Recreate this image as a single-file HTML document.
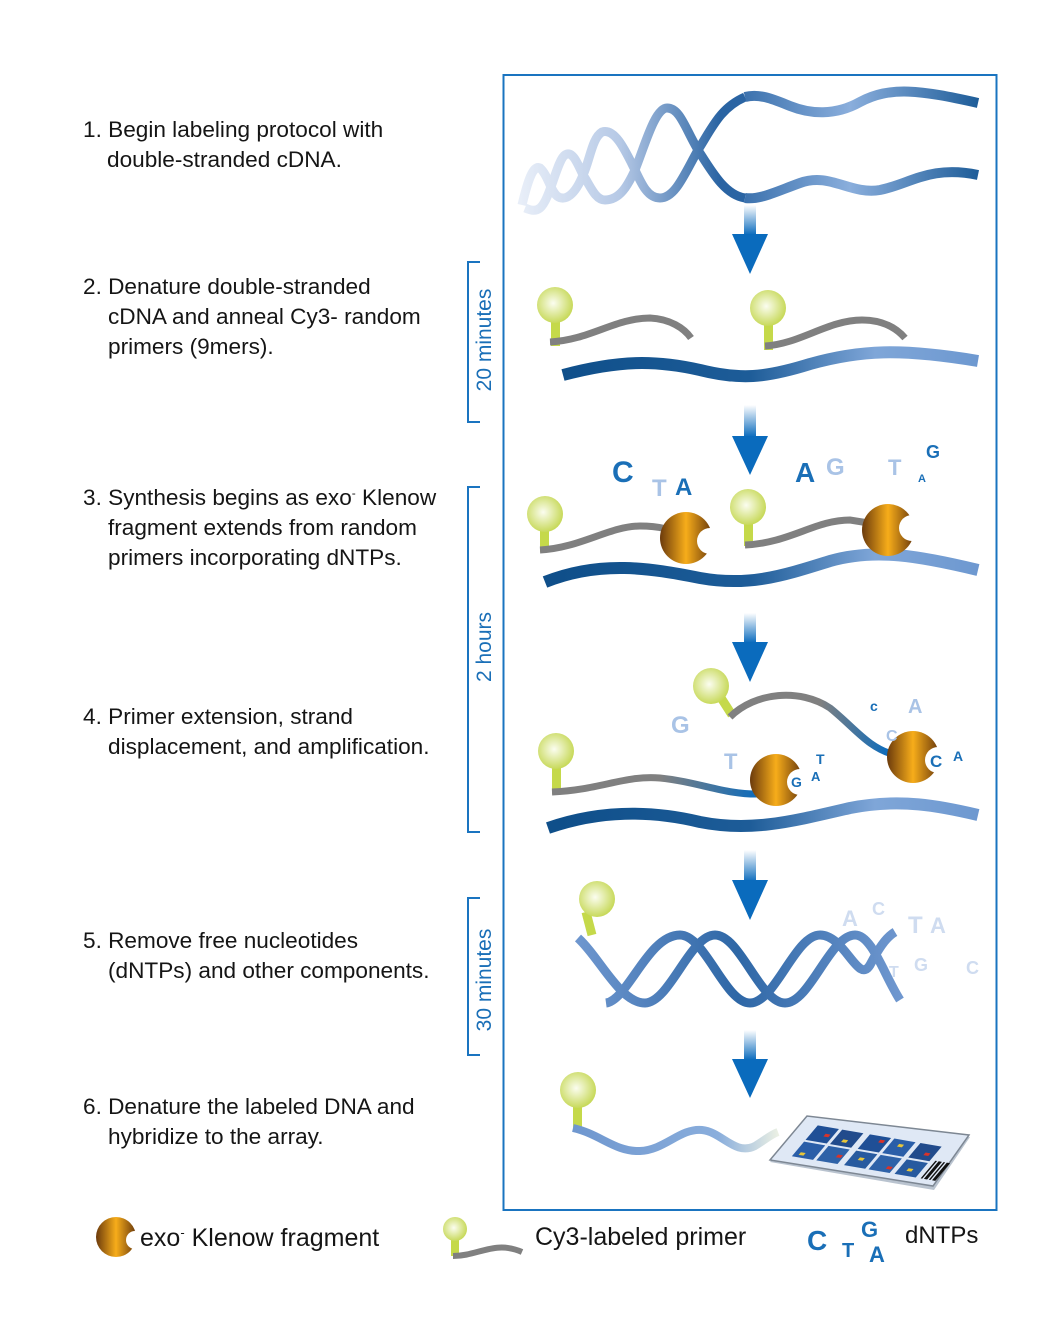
<!DOCTYPE html>
<html><head><meta charset="utf-8"><style>
html,body{margin:0;padding:0;background:#fff}
svg{display:block}
.t{font-family:"Liberation Sans",sans-serif;font-size:22.6px;fill:#151515}
.b{font-family:"Liberation Sans",sans-serif;font-weight:bold}
.d{fill:#1a6fb7}.l{fill:#a9c3e6}.vl{fill:#cfdcf0}
</style></head><body>
<svg width="1060" height="1334" viewBox="0 0 1060 1334" xmlns="http://www.w3.org/2000/svg">
<defs>
<radialGradient id="bulb" cx="0.45" cy="0.45" r="0.6"><stop offset="0" stop-color="#fbfdf0"/><stop offset="1" stop-color="#c3d64d"/></radialGradient>
<linearGradient id="enz" x1="0" x2="1" y1="0" y2="0"><stop offset="0" stop-color="#6b3a0c"/><stop offset="0.5" stop-color="#f7ad1a"/><stop offset="1" stop-color="#6b3a0c"/></linearGradient>
<linearGradient id="arr" x1="0" x2="0" y1="0" y2="1"><stop offset="0" stop-color="#ffffff"/><stop offset="1" stop-color="#0a6bbd"/></linearGradient>
<linearGradient id="tmpl" gradientUnits="userSpaceOnUse" x1="560" x2="980" y1="0" y2="0"><stop offset="0" stop-color="#0f4f8a"/><stop offset="0.45" stop-color="#1d5c98"/><stop offset="0.75" stop-color="#7fa6d8"/><stop offset="1" stop-color="#6d98d0"/></linearGradient>
<linearGradient id="hx1" gradientUnits="userSpaceOnUse" x1="520" x2="720" y1="0" y2="0"><stop offset="0" stop-color="#e8eef8"/><stop offset="0.5" stop-color="#b6c9e6"/><stop offset="1" stop-color="#2a64a3"/></linearGradient>
<linearGradient id="hxr" gradientUnits="userSpaceOnUse" x1="720" x2="980" y1="0" y2="0"><stop offset="0" stop-color="#2a64a3"/><stop offset="0.5" stop-color="#8aaedc"/><stop offset="1" stop-color="#1d5c98"/></linearGradient>
<linearGradient id="hx5" gradientUnits="userSpaceOnUse" x1="575" x2="900" y1="0" y2="0"><stop offset="0" stop-color="#6f97cf"/><stop offset="0.5" stop-color="#2e67a6"/><stop offset="1" stop-color="#6f97cf"/></linearGradient>
<linearGradient id="s6" gradientUnits="userSpaceOnUse" x1="575" x2="780" y1="0" y2="0"><stop offset="0" stop-color="#6f97cf"/><stop offset="0.7" stop-color="#8aaedc"/><stop offset="1" stop-color="#eef2e4"/></linearGradient>
<linearGradient id="g2b" gradientUnits="userSpaceOnUse" x1="660" x2="760" y1="0" y2="0"><stop offset="0" stop-color="#808080"/><stop offset="1" stop-color="#0a6bbd"/></linearGradient>
<linearGradient id="g2c" gradientUnits="userSpaceOnUse" x1="820" x2="890" y1="0" y2="0"><stop offset="0" stop-color="#808080"/><stop offset="1" stop-color="#0a6bbd"/></linearGradient>
</defs>

<rect x="503.5" y="75" width="493" height="1135" fill="none" stroke="#1a74c0" stroke-width="2"/>

<text class="t" x="83" y="137">1. Begin labeling protocol with</text>
<text class="t" x="107" y="167">double-stranded cDNA.</text>
<text class="t" x="83" y="294">2. Denature double-stranded</text>
<text class="t" x="108" y="324">cDNA and anneal Cy3- random</text>
<text class="t" x="108" y="354">primers (9mers).</text>
<text class="t" x="83" y="505">3. Synthesis begins as exo<tspan dy="-8" font-size="12">-</tspan><tspan dy="8"> Klenow</tspan></text>
<text class="t" x="108" y="535">fragment extends from random</text>
<text class="t" x="108" y="565">primers incorporating dNTPs.</text>
<text class="t" x="83" y="724">4. Primer extension, strand</text>
<text class="t" x="108" y="754">displacement, and amplification.</text>
<text class="t" x="83" y="948">5. Remove free nucleotides</text>
<text class="t" x="108" y="978">(dNTPs) and other components.</text>
<text class="t" x="83" y="1114">6. Denature the labeled DNA and</text>
<text class="t" x="108" y="1144">hybridize to the array.</text>

<g fill="none" stroke="#1a74c0" stroke-width="2">
<path d="M480,262 H468 V422 H480"/>
<path d="M480,487 H468 V832 H480"/>
<path d="M480,898 H468 V1055 H480"/>
</g>
<g font-family="Liberation Sans,sans-serif" font-size="21" fill="#1a6fb7" text-anchor="middle">
<text transform="translate(491,340) rotate(-90)">20 minutes</text>
<text transform="translate(491,647) rotate(-90)">2 hours</text>
<text transform="translate(491,980) rotate(-90)">30 minutes</text>
</g>

<g>
<rect x="744" y="205" width="12" height="30" fill="url(#arr)"/><polygon points="732,234 768,234 750,274" fill="#0a6bbd"/>
<rect x="744" y="405" width="12" height="32" fill="url(#arr)"/><polygon points="732,436 768,436 750,475" fill="#0a6bbd"/>
<rect x="744" y="613" width="12" height="30" fill="url(#arr)"/><polygon points="732,642 768,642 750,682" fill="#0a6bbd"/>
<rect x="744" y="850" width="12" height="32" fill="url(#arr)"/><polygon points="732,880 768,880 750,920" fill="#0a6bbd"/>
<rect x="744" y="1030" width="12" height="30" fill="url(#arr)"/><polygon points="732,1059 768,1059 750,1098" fill="#0a6bbd"/>
</g>

<g fill="none" stroke-width="9" stroke-linecap="butt">
<path stroke="url(#hx1)" d="M745,97 C720,108 712,128 698,150 C684,175 675,198 660,198 C648,198 642,185 635,170 C625,150 615,128 602,132 C592,138 590,160 583,175 C575,195 565,202 557,196 C550,190 548,175 540,168 C533,165 528,180 522,205"/>
<path stroke="url(#hx1)" d="M745,198 C725,195 712,172 698,150 C685,128 680,108 667,108 C655,108 645,145 635,170 C628,185 620,200 605,200 C595,200 590,185 583,175 C577,162 572,150 565,155 C557,160 550,200 540,208 C535,212 530,210 525,208"/>
<path stroke="url(#hxr)" stroke-width="10" d="M745,97 C760,93 775,100 790,106 C810,114 835,116 860,102 C890,86 920,90 978,103"/>
<path stroke="url(#hxr)" stroke-width="10" d="M745,198 C760,200 775,192 800,183 C830,172 850,195 880,190 C910,184 930,165 978,175"/>
</g>

<path d="M563,375 C620,360 655,360 700,370 C740,380 765,378 810,364 C860,350 900,348 978,361" fill="none" stroke="url(#tmpl)" stroke-width="12"/>
<rect x="551" y="318" width="9" height="28" fill="#c5d94a"/><circle cx="555" cy="305" r="18" fill="url(#bulb)"/>
<path d="M550,342 C590,340 615,318 650,318 C670,319 684,328 691,338" fill="none" stroke="#808080" stroke-width="7"/>
<rect x="764" y="322" width="9" height="28" fill="#c5d94a"/><circle cx="768" cy="308" r="18" fill="url(#bulb)"/>
<path d="M765,346 C800,344 828,320 862,320 C885,320 898,330 905,338" fill="none" stroke="#808080" stroke-width="7"/>

<path d="M545,582 C600,560 650,568 700,578 C750,587 785,575 830,561 C875,548 920,556 978,570" fill="none" stroke="url(#tmpl)" stroke-width="12"/>
<rect x="540" y="524" width="9" height="28" fill="#c5d94a"/><circle cx="545" cy="514" r="18" fill="url(#bulb)"/>
<path d="M540,550 C580,548 610,526 640,526 C660,526 672,530 685,535" fill="none" stroke="#808080" stroke-width="7"/>
<circle cx="686" cy="538" r="26" fill="url(#enz)"/><circle cx="710" cy="541" r="13" fill="#fff"/>
<rect x="744" y="518" width="9" height="28" fill="#c5d94a"/><circle cx="748" cy="507" r="18" fill="url(#bulb)"/>
<path d="M745,545 C790,543 815,520 850,520 L875,524" fill="none" stroke="#808080" stroke-width="7"/>
<circle cx="888" cy="530" r="26" fill="url(#enz)"/><circle cx="912" cy="528" r="13" fill="#fff"/>
<g class="b">
<text class="d" x="612" y="482" font-size="30">C</text>
<text class="l" x="652" y="496" font-size="24">T</text>
<text class="d" x="675" y="495" font-size="24">A</text>
<text class="d" x="795" y="482" font-size="28">A</text>
<text class="l" x="826" y="475" font-size="24">G</text>
<text class="l" x="888" y="475" font-size="22">T</text>
<text class="d" x="926" y="458" font-size="18">G</text>
<text class="d" x="918" y="482" font-size="11">A</text>
</g>

<path d="M548,828 C600,810 650,810 700,822 C750,832 790,822 850,808 C900,798 940,806 978,815" fill="none" stroke="url(#tmpl)" stroke-width="12"/>
<rect x="552" y="762" width="9" height="32" fill="#c5d94a"/><circle cx="556" cy="751" r="18" fill="url(#bulb)"/>
<path d="M552,792 C600,790 625,775 660,778 C700,782 725,795 760,794" fill="none" stroke="url(#g2b)" stroke-width="7"/>
<circle cx="776" cy="780" r="26" fill="url(#enz)"/><circle cx="800" cy="782" r="13" fill="#fff"/>
<path d="M716,690 L732,715" stroke="#c5d94a" stroke-width="9"/><circle cx="711" cy="686" r="18" fill="url(#bulb)"/>
<path d="M730,717 C755,692 800,688 830,708 C855,728 868,748 895,755" fill="none" stroke="url(#g2c)" stroke-width="7"/>
<circle cx="913" cy="757" r="26" fill="url(#enz)"/><circle cx="938" cy="760" r="13" fill="#fff"/>
<g class="b">
<text class="l" x="671" y="733" font-size="24">G</text>
<text class="l" x="724" y="769" font-size="22">T</text>
<text class="d" x="791" y="787" font-size="14">G</text>
<text class="d" x="811" y="781" font-size="13">A</text>
<text class="d" x="816" y="764" font-size="14">T</text>
<text class="d" x="870" y="711" font-size="14">c</text>
<text class="l" x="908" y="713" font-size="20">A</text>
<text class="l" x="886" y="741" font-size="16">C</text>
<text class="d" x="930" y="767" font-size="17">C</text>
<text class="d" x="953" y="761" font-size="14">A</text>
</g>

<path d="M592,935 L586,912" stroke="#c5d94a" stroke-width="9"/><circle cx="597" cy="899" r="18" fill="url(#bulb)"/>
<g fill="none" stroke="url(#hx5)" stroke-width="9">
<path d="M578,938 C600,958 620,1003 645,1003 C670,1002 690,935 715,935 C740,935 760,1003 785,1003 C810,1003 830,935 855,935 C872,935 884,975 900,1000"/>
<path d="M606,1003 C628,1000 648,935 680,935 C705,935 725,1003 750,1003 C775,1003 795,935 820,935 C845,935 858,985 870,965 C878,950 885,938 895,932"/>
</g>
<g class="b vl">
<text x="842" y="926" font-size="22">A</text>
<text x="872" y="915" font-size="18">C</text>
<text x="908" y="933" font-size="24">T</text>
<text x="930" y="933" font-size="22">A</text>
<text x="889" y="977" font-size="16">T</text>
<text x="914" y="971" font-size="18">G</text>
<text x="966" y="974" font-size="18">C</text>
</g>

<rect x="573" y="1100" width="9" height="30" fill="#c5d94a"/><circle cx="578" cy="1090" r="18" fill="url(#bulb)"/>
<path d="M573,1128 C600,1134 615,1152 640,1151 C665,1150 680,1128 702,1130 C722,1132 735,1156 755,1146 C765,1140 770,1135 778,1132" fill="none" stroke="url(#s6)" stroke-width="8"/>
<polygon points="770,1162 807,1118 970,1137 934,1190" fill="#b9c3cf"/>
<polygon points="770,1160 807,1116 969,1135 933,1186" fill="#dfe8f5" stroke="#7d8793" stroke-width="1.5"/>
<g transform="matrix(1.63,0.28,0.37,-0.44,770,1160)">
<rect x="10" y="15" width="13" height="33" fill="#2a5ea8"/><rect x="10" y="52" width="13" height="33" fill="#1f4f96"/>
<rect x="25" y="15" width="13" height="33" fill="#2e62a8"/><rect x="25" y="52" width="13" height="33" fill="#214b8c"/>
<rect x="42" y="15" width="13" height="33" fill="#275a9f"/><rect x="42" y="52" width="13" height="33" fill="#1f4f96"/>
<rect x="57" y="15" width="13" height="33" fill="#2e62a8"/><rect x="57" y="52" width="13" height="33" fill="#2a5ea8"/>
<rect x="73" y="15" width="13" height="33" fill="#275a9f"/><rect x="73" y="52" width="13" height="33" fill="#214b8c"/>
<g fill="#e8c63a"><rect x="13" y="20" width="3" height="6"/><rect x="30" y="60" width="3" height="6"/><rect x="47" y="30" width="3" height="6"/><rect x="62" y="70" width="3" height="6"/><rect x="78" y="25" width="3" height="6"/></g>
<g fill="#d8332a"><rect x="18" y="65" width="3" height="6"/><rect x="34" y="28" width="3" height="6"/><rect x="50" y="72" width="3" height="6"/><rect x="66" y="22" width="3" height="6"/><rect x="80" y="62" width="3" height="6"/></g>
<g fill="#111"><rect x="89" y="15" width="1" height="40"/><rect x="91" y="15" width="2" height="40"/><rect x="94" y="15" width="1" height="40"/><rect x="96" y="15" width="2" height="40"/></g>
</g>

<circle cx="116" cy="1237" r="20" fill="url(#enz)"/><circle cx="135" cy="1240" r="9" fill="#fff"/>
<text class="t" x="140" y="1246" style="font-size:25px">exo<tspan dy="-9" font-size="13">-</tspan><tspan dy="9"> Klenow fragment</tspan></text>
<rect x="451" y="1236" width="8" height="20" fill="#c5d94a"/><circle cx="455" cy="1229" r="12" fill="url(#bulb)"/>
<path d="M453,1256 C478,1256 495,1240 522,1252" fill="none" stroke="#808080" stroke-width="6"/>
<text class="t" x="535" y="1245" style="font-size:25px">Cy3-labeled primer</text>
<g class="b d">
<text x="807" y="1250" font-size="28">C</text>
<text x="842" y="1257" font-size="20">T</text>
<text x="861" y="1237" font-size="22">G</text>
<text x="869" y="1262" font-size="22">A</text>
</g>
<text class="t" x="905" y="1243" style="font-size:24px">dNTPs</text>
</svg>
</body></html>
